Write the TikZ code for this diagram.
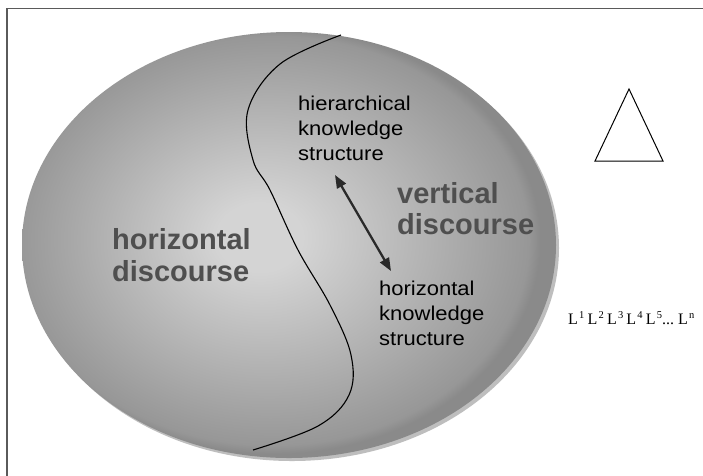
\documentclass[tikz,border=0pt]{standalone}
\usepackage{fontspec}
\setmainfont{Liberation Sans}
\newfontfamily\widesans[FakeStretch=1.1]{Liberation Sans}
\newfontfamily\timesfont{Liberation Serif}
\usetikzlibrary{arrows.meta}
\definecolor{shC}{HTML}{D4D4D4}
\definecolor{shE}{HTML}{979797}
\definecolor{shO}{HTML}{8A8A8A}
\definecolor{rimgray}{HTML}{BEBEBE}
\definecolor{boldgray}{HTML}{4F4F4F}
\definecolor{framegray}{HTML}{5A5A5A}
\definecolor{arrowgray}{HTML}{2A2A2A}
\pgfdeclareradialshading{discshade}{\pgfpoint{-3bp}{1bp}}{color(0bp)=(shC); color(4bp)=(shC); color(24bp)=(shE); color(25bp)=(shO); color(50bp)=(shO)}
\newcommand{\Lsup}[1]{L\kern1.2pt\raisebox{5.5pt}{\fontsize{10.5}{11}\selectfont #1}}
\begin{document}
\begin{tikzpicture}[x=1pt,y=-1pt,
  lbltext/.style={font=\widesans\fontsize{20}{24}\selectfont, anchor=base west, inner sep=0pt, text=black},
  bigtext/.style={font=\fontsize{29}{31}\selectfont\bfseries, anchor=base west, inner sep=0pt, text=boldgray},
  dblarrow/.style={line width=2.3pt, arrowgray, {Triangle[length=13pt,width=10pt]}-{Triangle[length=13pt,width=10pt]}}]
\useasboundingbox (0,0) rectangle (703,475);
\fill[white] (0,0) rectangle (703,475);
\draw[framegray, line width=1.4pt] (7,8.5) rectangle (720,490);
% disc
\fill[rimgray] (292,248) ellipse [x radius=267, y radius=213];
\shade[shading=discshade] (289,245) ellipse [x radius=267, y radius=213];
% dividing curve
\draw[line width=1.1pt] plot[smooth, tension=0.6] coordinates {(341,35) (280,64) (248,110) (253,160) (270,190) (298,250) (330,305) (351,355) (349,395) (318,426) (253,450)};
% texts
\node[lbltext] (hk1) at (298,110) {hierarchical};
\node[lbltext] (hk2) at (298,135) {knowledge};
\node[lbltext] (hk3) at (298,160) {structure};
\node[lbltext] (ho1) at (379,295) {horizontal};
\node[lbltext] (ho2) at (379,320) {knowledge};
\node[lbltext] (ho3) at (379,345) {structure};
\node[bigtext] (vd1) at (397,203) {vertical};
\node[bigtext] (vd2) at (397,234) {discourse};
\node[bigtext] (hd1) at (112,249) {horizontal};
\node[bigtext] (hd2) at (112,281) {discourse};
% arrow
\coordinate (ar1) at (335,175);
\coordinate (ar2) at (391,271);
\draw[dblarrow] (ar1) -- (ar2);
% triangle
\draw[line width=1pt] (629,89) -- (663,161) -- (595,161) -- cycle;
% L sequence
\node[anchor=base west, inner sep=0pt, font=\timesfont\fontsize{16}{18}\selectfont] (lseq) at (568,324) {\Lsup{1}\hspace{3.2pt}\Lsup{2}\hspace{3.2pt}\Lsup{3}\hspace{3.2pt}\Lsup{4}\hspace{3.2pt}\Lsup{5}...\hspace{4pt}\Lsup{n}};
\end{tikzpicture}
\end{document}
